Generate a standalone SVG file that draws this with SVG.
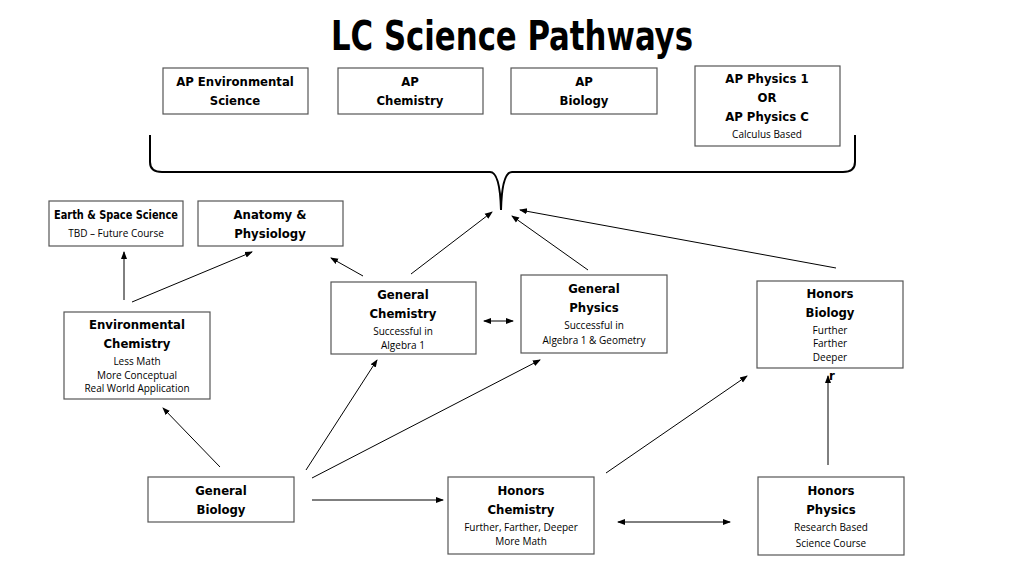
<svg xmlns="http://www.w3.org/2000/svg" width="1024" height="576" viewBox="0 0 1024 576">
<style>
rect{fill:#fff;stroke:#555;stroke-width:1.2}
.h{font-family:"DejaVu Sans","Liberation Sans",sans-serif;font-stretch:condensed;font-weight:bold;font-size:13px;text-anchor:middle;fill:#000}
.s{font-family:"Open Sans","Liberation Sans",sans-serif;font-size:10px;text-anchor:middle;fill:#000}
.c line{stroke:#000;stroke-width:1;marker-end:url(#a)}
</style>
<defs><marker id="a" markerWidth="8" markerHeight="8" refX="7" refY="4" orient="auto-start-reverse" markerUnits="userSpaceOnUse"><path d="M0,1 L8,4 L0,7z" fill="#000"/></marker></defs>
<rect width="1024" height="576" style="stroke:none"/>
<text x="512" y="50" class="h" style="font-size:40px" textLength="362" lengthAdjust="spacingAndGlyphs">LC Science Pathways</text>
<g id="apenv"><rect x="163" y="68" width="145" height="46"/><text x="235" y="86" class="h">AP Environmental</text><text x="235" y="105" class="h">Science</text></g>
<g id="apchem"><rect x="338" y="68" width="145" height="46"/><text x="410" y="86" class="h">AP</text><text x="410" y="105" class="h">Chemistry</text></g>
<g id="apbio"><rect x="511" y="68" width="146" height="46"/><text x="584" y="86" class="h">AP</text><text x="584" y="105" class="h">Biology</text></g>
<g id="apphys"><rect x="695" y="66" width="145" height="80"/><text x="767" y="83" class="h">AP Physics 1</text><text x="767" y="102" class="h">OR</text><text x="767" y="121" class="h">AP Physics C</text><text x="767" y="138" class="s">Calculus Based</text></g>
<g id="earth"><rect x="49" y="201" width="134" height="45"/><text x="116" y="219" class="h" textLength="124" lengthAdjust="spacingAndGlyphs">Earth &amp; Space Science</text><text x="116" y="237" class="s">TBD – Future Course</text></g>
<g id="anat"><rect x="198" y="201" width="145" height="45"/><text x="270" y="219" class="h">Anatomy &amp;</text><text x="270" y="238" class="h">Physiology</text></g>
<g id="genchem"><rect x="331" y="282" width="145" height="72"/><text x="403" y="299" class="h">General</text><text x="403" y="318" class="h">Chemistry</text><text x="403" y="335" class="s">Successful in</text><text x="403" y="349" class="s">Algebra 1</text></g>
<g id="genphys"><rect x="521" y="275" width="146" height="78"/><text x="594" y="293" class="h">General</text><text x="594" y="312" class="h">Physics</text><text x="594" y="329" class="s">Successful in</text><text x="594" y="344" class="s">Algebra 1 &amp; Geometry</text></g>
<g id="honbio"><rect x="757" y="281" width="146" height="87"/><text x="830" y="298" class="h">Honors</text><text x="830" y="317" class="h">Biology</text><text x="830" y="334" class="s">Further</text><text x="830" y="347" class="s">Farther</text><text x="830" y="361" class="s">Deeper</text></g>
<g id="envchem"><rect x="64" y="312" width="146" height="87"/><text x="137" y="329" class="h">Environmental</text><text x="137" y="348" class="h">Chemistry</text><text x="137" y="365" class="s">Less Math</text><text x="137" y="379" class="s">More Conceptual</text><text x="137" y="392" class="s">Real World Application</text></g>
<g id="genbio"><rect x="148" y="477" width="146" height="45"/><text x="221" y="495" class="h">General</text><text x="221" y="514" class="h">Biology</text></g>
<g id="honchem"><rect x="448" y="477" width="146" height="77"/><text x="521" y="495" class="h">Honors</text><text x="521" y="514" class="h">Chemistry</text><text x="521" y="531" class="s">Further, Farther, Deeper</text><text x="521" y="545" class="s">More Math</text></g>
<g id="honphys"><rect x="758" y="477" width="146" height="78"/><text x="831" y="495" class="h">Honors</text><text x="831" y="514" class="h">Physics</text><text x="831" y="531" class="s">Research Based</text><text x="831" y="547" class="s">Science Course</text></g>
<text x="832" y="380" class="h" style="font-size:13px">r</text>
<g class="c" id="connectors">
<path d="M150,135 V162 Q150,172 162,172 H490 Q500,172 501,210 Q502,172 512,172 H843 Q855,172 855,162 V135" fill="none" stroke="#000" stroke-width="2"/>
<line x1="124" y1="300" x2="124" y2="252"/>
<line x1="132" y1="302" x2="252" y2="252"/>
<line x1="363" y1="276" x2="331" y2="258"/>
<line x1="411" y1="274" x2="492" y2="212"/>
<line x1="588" y1="270" x2="512" y2="216"/>
<line x1="836" y1="268" x2="520" y2="210"/>
<line x1="484" y1="321" x2="513" y2="321" marker-start="url(#a)"/>
<line x1="220" y1="467" x2="163" y2="408"/>
<line x1="306" y1="470" x2="377" y2="360"/>
<line x1="312" y1="478" x2="540" y2="360"/>
<line x1="312" y1="500" x2="443" y2="500"/>
<line x1="606" y1="473" x2="747" y2="376"/>
<line x1="618" y1="522" x2="730" y2="522" marker-start="url(#a)"/>
<line x1="828" y1="465" x2="828" y2="376"/>
</g>
</svg>
